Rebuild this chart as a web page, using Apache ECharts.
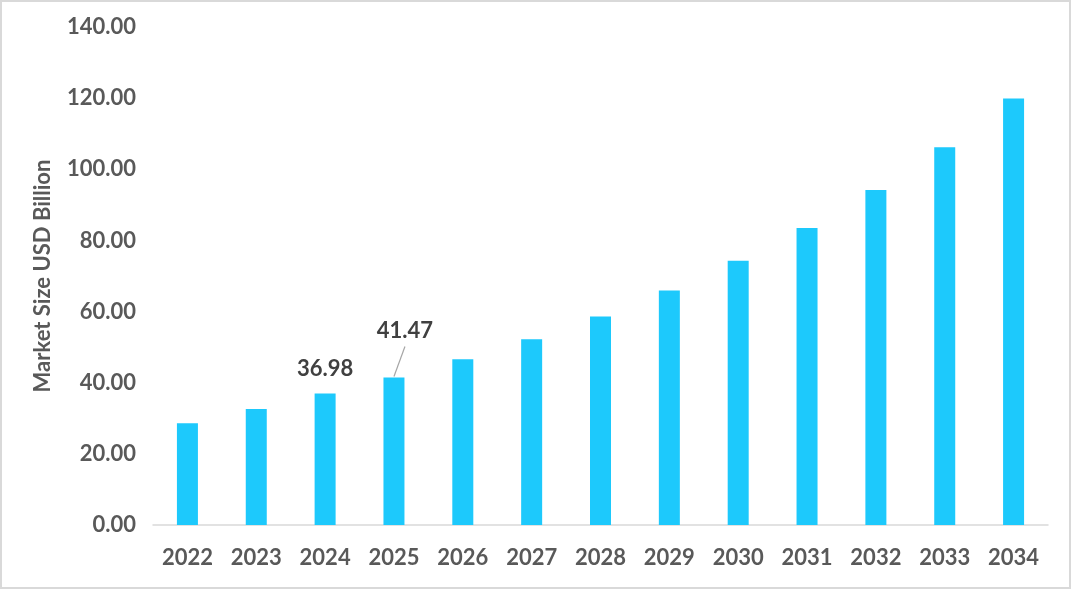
<!DOCTYPE html>
<html>
<head>
<meta charset="utf-8">
<script src="https://cdn.jsdelivr.net/npm/echarts@6/dist/echarts.min.js"></script>
<style>
  html, body { margin: 0; padding: 0; background: #fff; }
  #frame { position: absolute; left: 0; top: 0; width: 1071px; height: 589px; box-sizing: border-box; border: 2px solid #d9d9d9; }
  #chart { position: absolute; left: 0; top: 0; width: 1072px; height: 591px; }
</style>
</head>
<body>
<div id="chart"></div>
<div id="frame"></div>
<script>
var years = ['2022', '2023', '2024', '2025', '2026', '2027', '2028', '2029', '2030', '2031', '2032', '2033', '2034'];
var marketSize = [28.6, 32.6, 36.98, 41.47, 46.6, 52.2, 58.6, 65.9, 74.3, 83.5, 94.2, 106.2, 119.9];
var labelled = ['2024', '2025'];
var calloutYear = '2025';

var myChart = echarts.init(document.getElementById('chart'));

var seriesData = marketSize.map(function (v, i) {
    var item = { value: v };
    if (labelled.indexOf(years[i]) >= 0) {
        item.label = { show: true };
    }
    return item;
});
var calloutIdx = years.indexOf(calloutYear);

var option = {
    animation: false,
    grid: { left: 153, right: 24, top: 27, bottom: 66 },
    xAxis: {
        type: 'category',
        data: years,
        axisLine: { lineStyle: { color: '#d9d9d9', width: 1.5 } },
        axisTick: { show: false },
        axisLabel: {
            color: '#595959', fontFamily: 'Lato', fontWeight: 'bold', fontSize: 22, margin: 22
        }
    },
    yAxis: {
        type: 'value',
        min: 0,
        max: 140,
        interval: 20,
        name: 'Market Size USD Billion',
        nameLocation: 'middle',
        nameGap: 99,
        nameTextStyle: { color: '#595959', fontFamily: 'Lato', fontWeight: 'bold', fontSize: 22 },
        axisLine: { show: false },
        axisTick: { show: false },
        splitLine: { show: false },
        axisLabel: {
            color: '#595959', fontFamily: 'Lato', fontWeight: 'bold', fontSize: 22, margin: 17,
            formatter: function (v) { return v.toFixed(2); }
        }
    },
    series: [
        {
            type: 'bar',
            data: seriesData,
            barWidth: 21,
            itemStyle: { color: '#1dc9fc' },
            label: {
                show: false,
                position: 'top',
                distance: 14,
                color: '#404040',
                fontFamily: 'Lato',
                fontWeight: 'bold',
                fontSize: 22
            },
            labelLayout: function (params) {
                if (params.dataIndex === calloutIdx) {
                    return { dx: 11, dy: -22 };
                }
            }
        },
        {
            // leader line for the moved label
            type: 'custom',
            silent: true,
            data: [[calloutIdx, marketSize[calloutIdx]]],
            renderItem: function (params, api) {
                var p = api.coord([api.value(0), api.value(1)]);
                return {
                    type: 'line',
                    shape: { x1: p[0], y1: p[1] - 1, x2: p[0] + 11, y2: p[1] - 31 },
                    style: { stroke: '#a6a6a6', lineWidth: 1.2 }
                };
            }
        }
    ]
};

myChart.setOption(option);
</script>
</body>
</html>
